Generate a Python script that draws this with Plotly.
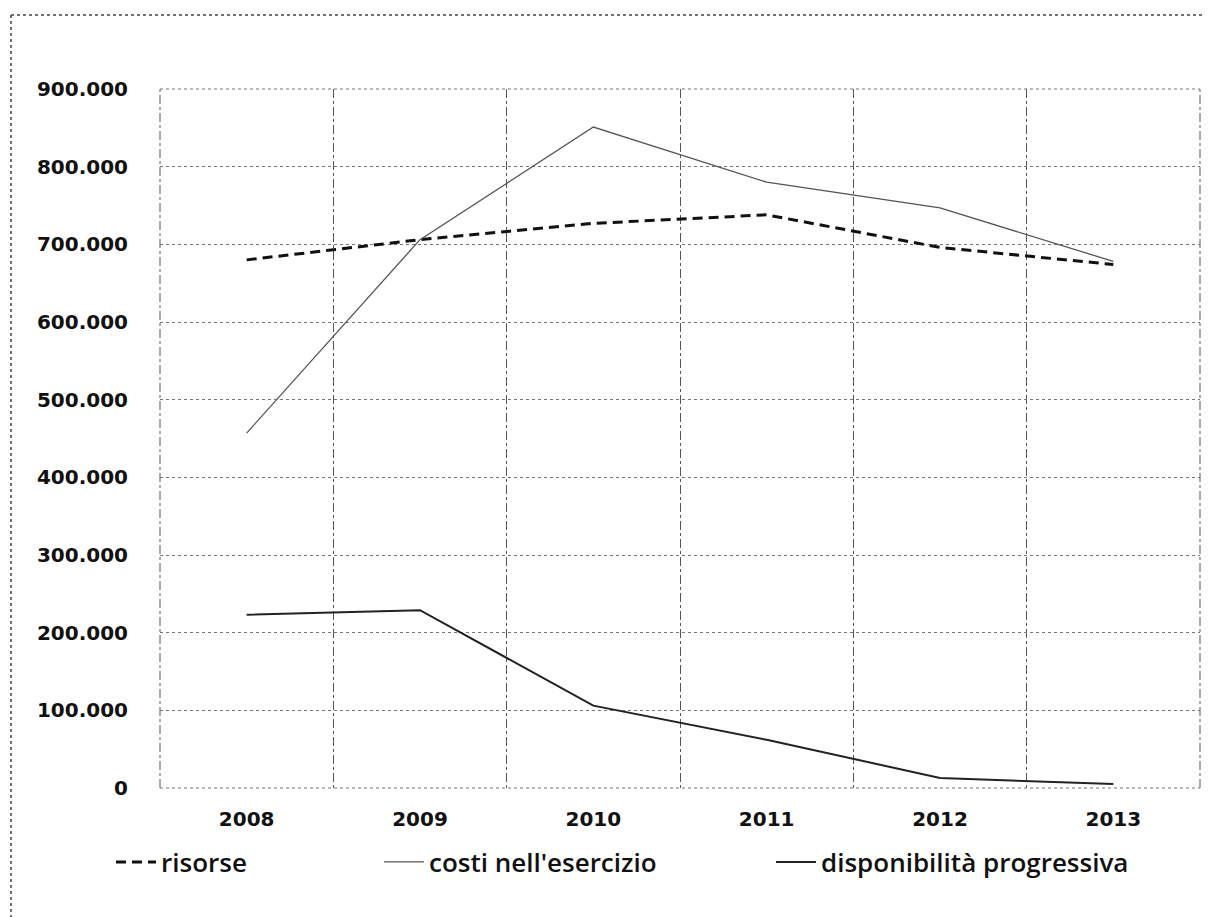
import plotly.graph_objects as go

years = ["2008", "2009", "2010", "2011", "2012", "2013"]
risorse = [680000, 706000, 727000, 738000, 696000, 674000]
costi = [457000, 706000, 851000, 780000, 747000, 678000]
disponibilita = [223000, 229000, 106000, 62000, 13000, 5000]
y_ticks = [0, 100000, 200000, 300000, 400000, 500000, 600000, 700000, 800000, 900000]

W, H = 1203, 909
L, R, T, B = 152, 11, 81, 129
PW, PH = W - L - R, H - T - B


def px(xp):
    return (xp - L) / PW


def py(yp):
    return 1 - (yp - T) / PH


fig = go.Figure()
fig.add_trace(go.Scatter(x=years, y=risorse, name="risorse", mode="lines", legend="legend",
                         line=dict(color="#111111", width=3, dash="10px,6px")))
fig.add_trace(go.Scatter(x=years, y=costi, name="costi nell'esercizio", mode="lines", legend="legend2",
                         line=dict(color="#555555", width=1.3)))
fig.add_trace(go.Scatter(x=years, y=disponibilita, name="disponibilità progressiva", mode="lines",
                         legend="legend3", line=dict(color="#222222", width=2)))

leg_font = dict(family="Open Sans", size=26, color="#111111", weight=600)
leg_common = dict(yanchor="middle", y=py(854), xanchor="left", bgcolor="rgba(0,0,0,0)",
                  font=leg_font, itemwidth=40)
fig.update_layout(
    width=W, height=H,
    margin=dict(l=L, r=R, t=T, b=B),
    paper_bgcolor="white", plot_bgcolor="white",
    separators=",.",
    showlegend=True,
    legend=dict(x=px(103), **leg_common),
    legend2=dict(x=px(371), **leg_common),
    legend3=dict(x=px(763), **leg_common),
    font=dict(family="DejaVu Sans", color="#111111"),
)
tick_font = dict(family="DejaVu Sans", size=20, color="#111111", weight="bold")
fig.update_xaxes(type="category", tickson="boundaries", showgrid=True,
                 gridcolor="#555555", griddash="dashdot", gridwidth=1,
                 showline=False, zeroline=False, ticks="",
                 tickfont=tick_font, ticklabelstandoff=17, range=[-0.5, 5.5])
fig.update_yaxes(range=[0, 900000], tickvals=y_ticks, tickformat=",d",
                 showgrid=True, gridcolor="#777777", griddash="dot", gridwidth=1,
                 zeroline=False, showline=False, ticks="",
                 tickfont=tick_font, ticklabelstandoff=31)
# plot area edges (grid at boundaries)
for x0 in (0, 1):
    fig.add_shape(type="line", xref="paper", yref="paper", x0=x0, x1=x0, y0=0, y1=1,
                  line=dict(color="#555555", width=1, dash="dashdot"), layer="below")
for y0 in (0, 1):
    fig.add_shape(type="line", xref="paper", yref="paper", x0=0, x1=1, y0=y0, y1=y0,
                  line=dict(color="#777777", width=1, dash="dot"), layer="below")
# outer dotted frame (top and left edges)
fig.add_shape(type="line", xref="paper", yref="paper", x0=px(3), x1=px(W), y0=py(7), y1=py(7),
              line=dict(color="#444444", width=1.5, dash="dot"))
fig.add_shape(type="line", xref="paper", yref="paper", x0=px(3), x1=px(3), y0=py(7), y1=py(H),
              line=dict(color="#444444", width=1.5, dash="dot"))
fig.write_html("out.html")
